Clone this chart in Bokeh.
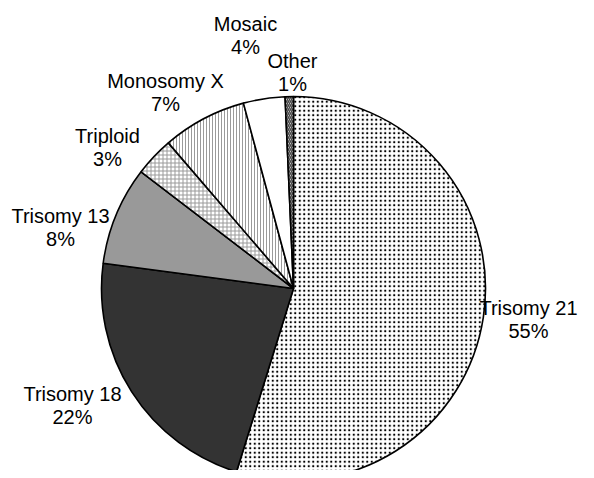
import math
from bokeh.plotting import figure
from bokeh.models import Range1d, ColumnDataSource
from bokeh.core.properties import value
from bokeh.embed import file_html
from bokeh.resources import INLINE

# ---- data ----
categories = ["Trisomy 21", "Trisomy 18", "Trisomy 13", "Triploid", "Monosomy X", "Mosaic", "Other"]
shares = [54.8, 22.3, 8.3, 3.3, 7.1, 3.5, 0.7]
pct_labels = ["55%", "22%", "8%", "3%", "7%", "4%", "1%"]

# ---- styles ----
fills = ["white", "#333333", "#999999", "white", "white", "white", "white"]
hatches = ["dot", " ", " ", "cross", "vertical_line", " ", "left_diagonal_line"]
hatch_colors = ["black", "black", "black", "#9a9a9a", "#9a9a9a", "black", "#444444"]
hatch_scales = [4.5, 4, 4, 4.0, 3.0, 4, 4.0]
hatch_weights = [2.5, 1, 1, 1.0, 1.0, 1, 1.5]

# ---- layout (screen pixels of the 594x478 page) ----
W, H = 578, 470
cx, cy_screen, R = 293, 288, 192
label_pos = [(528, 307), (72, 393), (60, 215), (107, 135), (165, 80), (245, 23), (292, 60)]
line_gap = 23

def ys(v):
    return 478 - v

total = sum(shares)
starts, ends = [], []
cum = 0.0
for s in shares:
    a0 = math.pi / 2 - 2 * math.pi * cum / total
    cum += s
    a1 = math.pi / 2 - 2 * math.pi * cum / total
    starts.append(a0)
    ends.append(a1)

p = figure(width=W, height=H, output_backend="svg", toolbar_location=None,
           x_range=Range1d(0, W), y_range=Range1d(478 - H, 478),
           min_border=0, min_border_left=0, min_border_right=0,
           min_border_top=0, min_border_bottom=0)
p.axis.visible = False
p.grid.visible = False
p.outline_line_color = None
p.background_fill_color = "white"
p.border_fill_color = "white"

for i in range(len(categories)):
    kw = dict(x=cx, y=ys(cy_screen), radius=R, start_angle=starts[i], end_angle=ends[i],
              direction="clock", fill_color=fills[i], line_color="black", line_width=1.6)
    if hatches[i].strip():
        kw.update(hatch_pattern=hatches[i], hatch_color=hatch_colors[i],
                  hatch_scale=hatch_scales[i], hatch_weight=hatch_weights[i])
    p.wedge(**kw)

src = ColumnDataSource(dict(
    x=[lp[0] for lp in label_pos],
    y1=[ys(lp[1]) for lp in label_pos],
    y2=[ys(lp[1] + line_gap) for lp in label_pos],
    name=categories,
    pct=pct_labels,
))
common = dict(text_align="center", text_baseline="middle", text_font=value("Liberation Sans"),
              text_font_size="20px", text_color="black")
p.text(x="x", y="y1", text="name", source=src, **common)
p.text(x="x", y="y2", text="pct", source=src, **common)

open("out.html", "w").write(file_html(p, INLINE))
